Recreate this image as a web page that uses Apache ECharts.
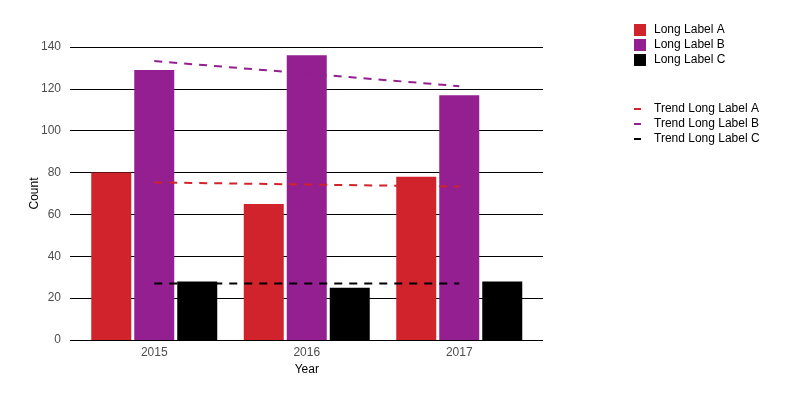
<!DOCTYPE html>
<html>
<head>
<meta charset="utf-8">
<script src="https://cdn.jsdelivr.net/npm/echarts@6/dist/echarts.min.js"></script>
<style>html,body{margin:0;padding:0;background:#fff;}#c{width:800px;height:400px;}</style>
</head>
<body>
<div id="c"></div>
<script>
const years = ['2015', '2016', '2017'];
const seriesNames = ['Long Label A', 'Long Label B', 'Long Label C'];
const valuesA = [80, 65, 78];
const valuesB = [129, 136, 117];
const valuesC = [28, 25, 28];
const trendNames = ['Trend Long Label A', 'Trend Long Label B', 'Trend Long Label C'];
const trendA = [75.3, 74.3, 73.3];
const trendB = [133.3, 127.3, 121.3];
const trendC = [27, 27, 27];
const yTicks = [0, 20, 40, 60, 80, 100, 120, 140];

const colors = ['#D0232B', '#931F90', '#000000'];
const barVals = [valuesA, valuesB, valuesC];
const trendVals = [trendA, trendB, trendC];
const font = 'Liberation Sans, Arial, sans-serif';

const chart = echarts.init(document.getElementById('c'), null, {renderer: 'canvas'});
const series = [];
barVals.forEach((v, i) => series.push({
  name: seriesNames[i], type: 'bar', xAxisIndex: 1, yAxisIndex: 1,
  data: v, barWidth: 40, barGap: '7.5%',
  itemStyle: {color: colors[i]}, z: 2, animation: false
}));
trendVals.forEach((v, i) => series.push({
  name: trendNames[i], type: 'line', xAxisIndex: 1, yAxisIndex: 1,
  data: v, symbol: 'none', z: 5,
  lineStyle: {color: colors[i], width: 2, type: [8, 7]},
  itemStyle: {color: colors[i]}, animation: false
}));

chart.setOption({
  animation: false,
  textStyle: {fontFamily: font},
  grid: [
    {left: 70, width: 473, top: 47, height: 293},
    {left: 78, width: 457.5, top: 47, height: 293}
  ],
  xAxis: [
    {gridIndex: 0, type: 'value', show: false, min: 0, max: 1},
    {gridIndex: 1, type: 'category', data: years,
     axisLine: {show: false}, axisTick: {show: false},
     axisLabel: {color: '#4D4D4D', fontSize: 12, margin: 7, fontFamily: font},
     name: 'Year', nameLocation: 'middle', nameGap: 22,
     nameTextStyle: {color: '#000', fontSize: 12, fontFamily: font}}
  ],
  yAxis: [
    {gridIndex: 0, type: 'value', min: yTicks[0], max: yTicks[yTicks.length - 1], interval: 20,
     axisLine: {show: false}, axisTick: {show: false},
     splitLine: {show: true, lineStyle: {color: '#000', width: 1}},
     axisLabel: {color: '#4D4D4D', fontSize: 12, margin: 9, fontFamily: font},
     name: 'Count', nameLocation: 'middle', nameGap: 29, nameRotate: 90, nameMoveOverlap: false,
     nameTextStyle: {color: '#000', fontSize: 12, fontFamily: font}},
    {gridIndex: 1, type: 'value', min: yTicks[0], max: yTicks[yTicks.length - 1], show: false,
     splitLine: {show: false}}
  ],
  legend: [
    {data: seriesNames, left: 634, top: 24, orient: 'vertical', padding: 0,
     icon: 'rect', itemWidth: 12, itemHeight: 12, itemGap: 3,
     textStyle: {fontSize: 12, color: '#000', lineHeight: 12, padding: [0, 0, 0, 3], fontFamily: font},
     selectedMode: false},
    {data: trendNames, left: 634, top: 103, orient: 'vertical', padding: 0,
     icon: 'rect', itemWidth: 7, itemHeight: 2, itemGap: 3,
     textStyle: {fontSize: 12, color: '#000', lineHeight: 12, padding: [0, 0, 0, 8], fontFamily: font},
     selectedMode: false}
  ],
  series: series
});
</script>
</body>
</html>
